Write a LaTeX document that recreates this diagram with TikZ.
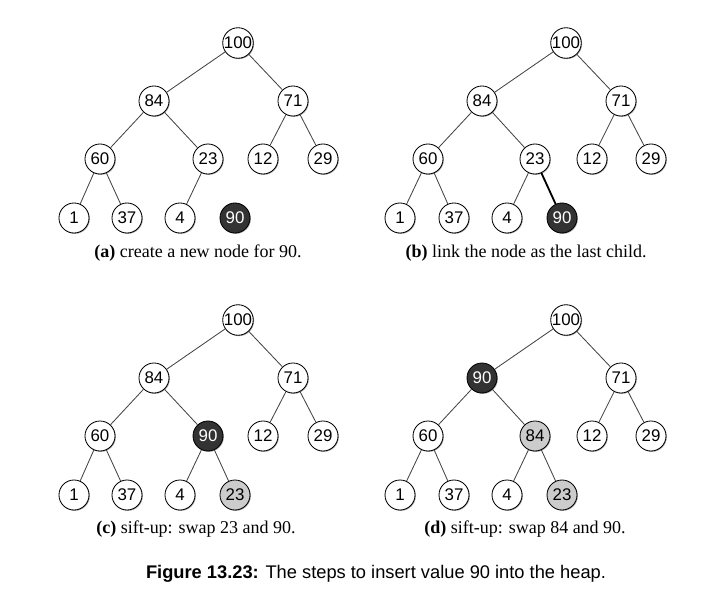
\documentclass[tikz,border=0pt]{standalone}
\usepackage{fontspec}
\setmainfont{Liberation Serif}
\setsansfont{Liberation Sans}
\usetikzlibrary{shadows}

\definecolor{heapdark}{HTML}{333333}
\definecolor{heapgrey}{HTML}{CCCCCC}
\definecolor{heapline}{HTML}{444444}

\tikzset{
  heapnode/.style={circle, draw=black, fill=white, line width=0.6pt, minimum size=0.75cm, inner sep=0pt,
    font=\sffamily\fontsize{12}{14}\selectfont,
    drop shadow={shadow xshift=0.6pt, shadow yshift=-0.6pt, opacity=0.35, fill=black}},
  newnode/.style={heapnode, fill=heapdark, text=white},
  movednode/.style={heapnode, fill=heapgrey},
  heapedge/.style={heapline, line width=0.6pt},
  linkedge/.style={black, line width=1.3pt},
  subcap/.style={font=\fontsize{12.8}{14}\selectfont, anchor=center}
}

\begin{document}
\begin{tikzpicture}[x=0.025cm, y=-0.025cm]
\useasboundingbox (0,0) rectangle (723,597);

% (a) new node
\begin{scope}
\node[heapnode] (a100) at (238,43) {100};
\node[heapnode] (a84) at (154,101) {84};
\node[heapnode] (a71) at (293,101) {71};
\node[heapnode] (a60) at (100,159) {60};
\node[heapnode] (a23) at (208,159) {23};
\node[heapnode] (a12) at (263,159) {12};
\node[heapnode] (a29) at (323,159) {29};
\node[heapnode] (a1) at (74,218) {1};
\node[heapnode] (a37) at (127,218) {37};
\node[heapnode] (a4) at (180,218) {4};
\node[newnode] (a90) at (235,218) {90};
\draw[heapedge] (a100) -- (a84);
\draw[heapedge] (a100) -- (a71);
\draw[heapedge] (a84) -- (a60);
\draw[heapedge] (a84) -- (a23);
\draw[heapedge] (a71) -- (a12);
\draw[heapedge] (a71) -- (a29);
\draw[heapedge] (a60) -- (a1);
\draw[heapedge] (a60) -- (a37);
\draw[heapedge] (a23) -- (a4);
\node[subcap] (acap) at (198,253) {\textbf{(a)} create a new node for 90.};
\end{scope}

% (b) link as last child
\begin{scope}[shift={(328,0)}]
\node[heapnode] (b100) at (238,43) {100};
\node[heapnode] (b84) at (154,101) {84};
\node[heapnode] (b71) at (293,101) {71};
\node[heapnode] (b60) at (100,159) {60};
\node[heapnode] (b23) at (207,159) {23};
\node[heapnode] (b12) at (264,159) {12};
\node[heapnode] (b29) at (323,159) {29};
\node[heapnode] (b1) at (72,218) {1};
\node[heapnode] (b37) at (126,218) {37};
\node[heapnode] (b4) at (179,218) {4};
\node[newnode] (b90) at (234,218) {90};
\draw[heapedge] (b100) -- (b84);
\draw[heapedge] (b100) -- (b71);
\draw[heapedge] (b84) -- (b60);
\draw[heapedge] (b84) -- (b23);
\draw[heapedge] (b71) -- (b12);
\draw[heapedge] (b71) -- (b29);
\draw[heapedge] (b60) -- (b1);
\draw[heapedge] (b60) -- (b37);
\draw[heapedge] (b23) -- (b4);
\draw[linkedge] (b23) -- (b90);
\node[subcap] (bcap) at (198,253) {\textbf{(b)} link the node as the last child.};
\end{scope}

% (c) swap 23 and 90
\begin{scope}[shift={(0,277)}]
\node[heapnode] (c100) at (238,43) {100};
\node[heapnode] (c84) at (154,101) {84};
\node[heapnode] (c71) at (293,101) {71};
\node[heapnode] (c60) at (100,159) {60};
\node[newnode] (c90) at (208,159) {90};
\node[heapnode] (c12) at (263,159) {12};
\node[heapnode] (c29) at (323,159) {29};
\node[heapnode] (c1) at (74,218) {1};
\node[heapnode] (c37) at (127,218) {37};
\node[heapnode] (c4) at (180,218) {4};
\node[movednode] (c23) at (235,218) {23};
\draw[heapedge] (c100) -- (c84);
\draw[heapedge] (c100) -- (c71);
\draw[heapedge] (c84) -- (c60);
\draw[heapedge] (c84) -- (c90);
\draw[heapedge] (c71) -- (c12);
\draw[heapedge] (c71) -- (c29);
\draw[heapedge] (c60) -- (c1);
\draw[heapedge] (c60) -- (c37);
\draw[heapedge] (c90) -- (c4);
\draw[heapedge] (c90) -- (c23);
\node[subcap] (ccap) at (196,252) {\textbf{(c)} sift-up: swap 23 and 90.};
\end{scope}

% (d) swap 84 and 90
\begin{scope}[shift={(328,277)}]
\node[heapnode] (d100) at (238,43) {100};
\node[newnode] (d90) at (154,101) {90};
\node[heapnode] (d71) at (293,101) {71};
\node[heapnode] (d60) at (100,159) {60};
\node[movednode] (d84) at (207,159) {84};
\node[heapnode] (d12) at (264,159) {12};
\node[heapnode] (d29) at (323,159) {29};
\node[heapnode] (d1) at (72,218) {1};
\node[heapnode] (d37) at (126,218) {37};
\node[heapnode] (d4) at (179,218) {4};
\node[movednode] (d23) at (234,218) {23};
\draw[heapedge] (d100) -- (d90);
\draw[heapedge] (d100) -- (d71);
\draw[heapedge] (d90) -- (d60);
\draw[heapedge] (d90) -- (d84);
\draw[heapedge] (d71) -- (d12);
\draw[heapedge] (d71) -- (d29);
\draw[heapedge] (d60) -- (d1);
\draw[heapedge] (d60) -- (d37);
\draw[heapedge] (d84) -- (d4);
\draw[heapedge] (d84) -- (d23);
\node[subcap] (dcap) at (197,252) {\textbf{(d)} sift-up: swap 84 and 90.};
\end{scope}

\node[font=\sffamily\fontsize{13}{15}\selectfont] (figcap) at (376,574) {\textbf{Figure 13.23:} The steps to insert value 90 into the heap.};

\end{tikzpicture}
\end{document}
